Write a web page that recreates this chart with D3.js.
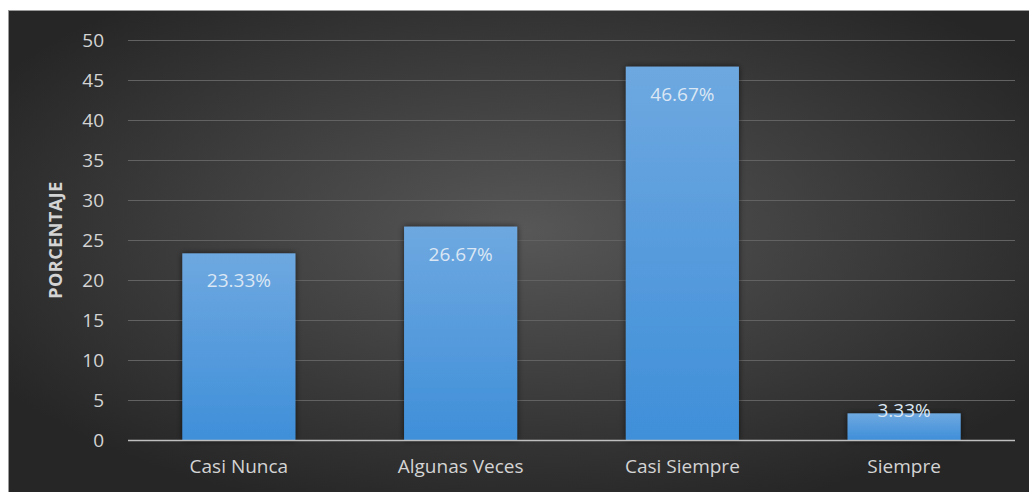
<!DOCTYPE html>
<html>
<head>
<meta charset="utf-8">
<script src="https://cdn.jsdelivr.net/npm/d3@7"></script>
<style>
  body { margin: 0; background: #fff; }
  svg text { font-family: "Open Sans", "DejaVu Sans", sans-serif; }
</style>
</head>
<body>
<svg id="chart" width="1029" height="492"></svg>
<script>
// data
var categories = ["Casi Nunca", "Algunas Veces", "Casi Siempre", "Siempre"];
var values = [23.33, 26.67, 46.67, 3.33];
var labels = ["23.33%", "26.67%", "46.67%", "3.33%"];
var yTicks = [0, 5, 10, 15, 20, 25, 30, 35, 40, 45, 50];

var svg = d3.select("#chart");
var defs = svg.append("defs");

// background gradient, lighter in the middle
var bg = defs.append("radialGradient").attr("id", "bg")
  .attr("cx", "50%").attr("cy", "45%").attr("r", "60%");
bg.append("stop").attr("offset", "0%").attr("stop-color", "#575757");
bg.append("stop").attr("offset", "100%").attr("stop-color", "#262626");

var barGrad = defs.append("linearGradient").attr("id", "bar")
  .attr("x1", 0).attr("y1", 0).attr("x2", 0).attr("y2", 1);
barGrad.append("stop").attr("offset", "0%").attr("stop-color", "#6ea8e0");
barGrad.append("stop").attr("offset", "100%").attr("stop-color", "#3f8fd9");

var shadow = defs.append("filter").attr("id", "shadow")
  .attr("x", "-20%").attr("y", "-20%").attr("width", "140%").attr("height", "140%");
shadow.append("feDropShadow").attr("dx", 0).attr("dy", 0)
  .attr("stdDeviation", 3).attr("flood-color", "#000").attr("flood-opacity", 0.6);

svg.append("rect")
  .attr("x", 8.5).attr("y", 10.5).attr("width", 1030).attr("height", 490)
  .attr("fill", "url(#bg)").attr("stroke", "#9a9a9a").attr("stroke-width", 1);

var plotLeft = 128, plotRight = 1015, plotTop = 40, plotBottom = 440;

var x = d3.scaleBand().domain(categories).range([plotLeft, plotRight]).paddingInner(0.49).paddingOuter(0.245);
var y = d3.scaleLinear().domain([0, 50]).range([plotBottom, plotTop]);

// gridlines
svg.append("g").selectAll("line").data(yTicks.filter(d => d > 0)).join("line")
  .attr("x1", plotLeft).attr("x2", plotRight)
  .attr("y1", d => Math.round(y(d)) + 0.5).attr("y2", d => Math.round(y(d)) + 0.5)
  .attr("stroke", "#626262").attr("stroke-width", 1);

// y axis labels
var yAxis = svg.append("g").attr("transform", "translate(104,0)")
  .call(d3.axisLeft(y).tickValues(yTicks).tickSize(0).tickPadding(0));
yAxis.select(".domain").remove();
yAxis.selectAll("text").attr("fill", "#d4d4d4").style("font-size", "19px");

// bars
svg.append("g").selectAll("rect").data(values).join("rect")
  .attr("x", (d, i) => x(categories[i]))
  .attr("y", d => y(d))
  .attr("width", x.bandwidth())
  .attr("height", d => plotBottom - y(d))
  .attr("fill", "url(#bar)")
  .attr("filter", "url(#shadow)");

// baseline
svg.append("line").attr("x1", plotLeft).attr("x2", plotRight)
  .attr("y1", plotBottom + 0.5).attr("y2", plotBottom + 0.5)
  .attr("stroke", "#bfbfbf").attr("stroke-width", 1.5);

// value labels
svg.append("g").selectAll("text").data(values).join("text")
  .attr("x", (d, i) => x(categories[i]) + x.bandwidth() / 2)
  .attr("y", d => Math.min(y(d) + 34, plotBottom - 23))
  .attr("text-anchor", "middle")
  .attr("fill", "#dbe7f4")
  .style("font-size", "19px")
  .text((d, i) => labels[i]);

// x axis labels
var xAxis = svg.append("g").attr("transform", "translate(0," + plotBottom + ")")
  .call(d3.axisBottom(x).tickSize(0).tickPadding(20));
xAxis.select(".domain").remove();
xAxis.selectAll("text").attr("fill", "#d4d4d4").style("font-size", "19px");

// y title
svg.append("text")
  .attr("transform", "translate(62,240) rotate(-90)")
  .attr("text-anchor", "middle")
  .attr("fill", "#d4d4d4")
  .style("font-size", "18px").style("font-weight", "bold")
  .style("letter-spacing", "0.5px")
  .text("PORCENTAJE");
</script>
</body>
</html>
